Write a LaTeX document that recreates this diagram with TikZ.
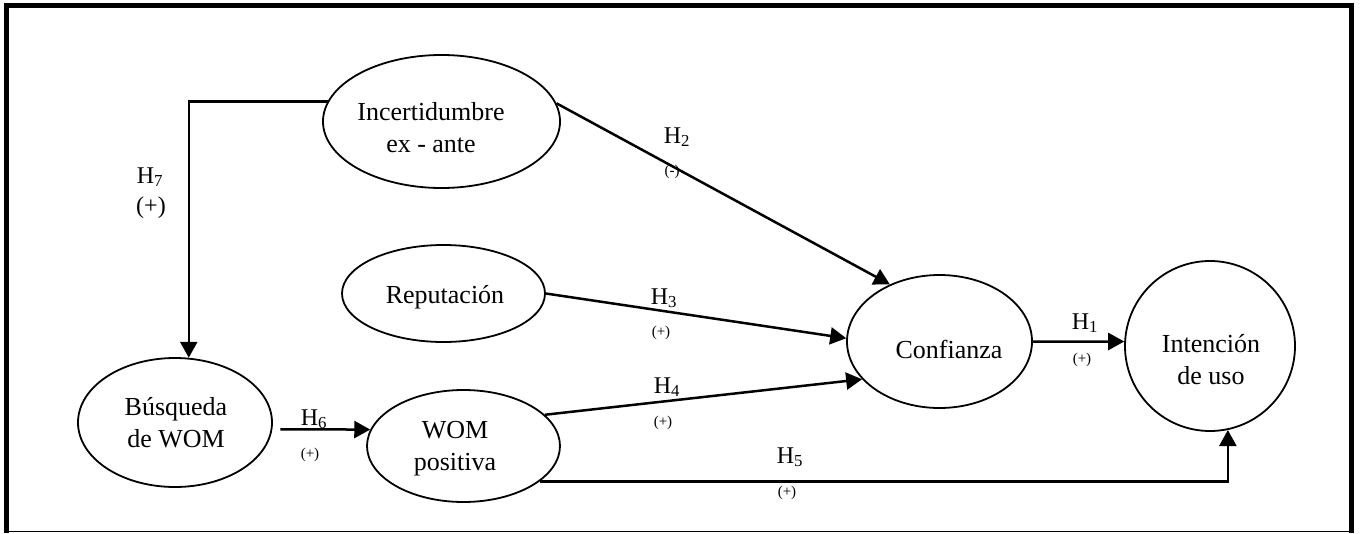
\documentclass[tikz,border=0pt]{standalone}
\usepackage{fontspec}
\setmainfont{Liberation Serif}
\usetikzlibrary{arrows.meta}
\usetikzlibrary{shapes.geometric}
\usetikzlibrary{positioning}

\begin{document}
\begin{tikzpicture}[x=1pt, y=-1pt,
  construct/.style={draw, ellipse, line width=1.8pt, inner sep=0pt},
  txt/.style={align=center, font=\fontsize{26}{32}\selectfont},
  hyp/.style={line width=2.5pt, -{Triangle[length=16pt, width=17pt]}},
  hlab/.style={anchor=base, font=\fontsize{24}{28}\selectfont},
  sgn/.style={font=\fontsize{15}{18}\selectfont}]
\useasboundingbox (0,0) rectangle (1360,533);
\draw[line width=5pt] (6.5,533) -- (6.5,5.8) -- (1351,5.8) -- (1351,533);
\draw[line width=1.2pt] (4,531.5) -- (1354,531.5);

\node[construct, minimum width=237pt, minimum height=133pt] (incert) at (441.5,121.5) {};
\node[construct, minimum width=203pt, minimum height=97pt] (reput) at (443.5,293.5) {};
\node[construct, minimum width=194pt, minimum height=129pt] (busq) at (175,422.5) {};
\node[construct, minimum width=193pt, minimum height=112pt] (wom) at (463.5,446) {};
\node[construct, minimum width=185pt, minimum height=133pt] (confianza) at (939.5,341.5) {};
\node[construct, circle, minimum size=170pt] (intencion) at (1210,346) {};

\node[txt] (incert-t) at (431,128) {Incertidumbre\\ex - ante};
\node[txt] (reput-t) at (445,297) {Reputación};
\node[txt] (busq-t) at (176,423) {Búsqueda\\de WOM};
\node[txt] (wom-t) at (455,449) {WOM\\positiva};
\node[txt] (confianza-t) at (949,349) {Confianza};
\node[txt] (intencion-t) at (1211,360) {Intención\\de uso};

\draw[hyp] (incert.170) -| (busq.78);
\draw[hyp] (incert.9) -- (confianza.131);
\draw[hyp] (reput.0) -- (confianza.178);
\draw[hyp] (wom.21) -- (confianza.206);
\draw[hyp] (wom.335) -| (intencion.282);
\draw[hyp] (confianza.east) -- (intencion.177);
\draw[hyp] ([xshift=8pt]busq.-4) -- (wom.170);

\node[hlab] (h7) at (150,183) {H\textsubscript{7}};
\node[sgn, font=\fontsize{24}{28}\selectfont] (s7) at (151,208) {(+)};
\node[hlab] (h2) at (677,143) {H\textsubscript{2}};
\node[sgn] (s2) at (672,172) {(-)};
\node[hlab] (h3) at (664,304) {H\textsubscript{3}};
\node[sgn] (s3) at (661,333) {(+)};
\node[hlab] (h4) at (667,393) {H\textsubscript{4}};
\node[sgn] (s4) at (663,423) {(+)};
\node[hlab] (h5) at (790,463) {H\textsubscript{5}};
\node[sgn] (s5) at (787,493) {(+)};
\node[hlab] (h1) at (1085,329) {H\textsubscript{1}};
\node[sgn] (s1) at (1082,360) {(+)};
\node[hlab] (h6) at (314,425) {H\textsubscript{6}};
\node[sgn] (s6) at (310,455) {(+)};
\end{tikzpicture}
\end{document}
